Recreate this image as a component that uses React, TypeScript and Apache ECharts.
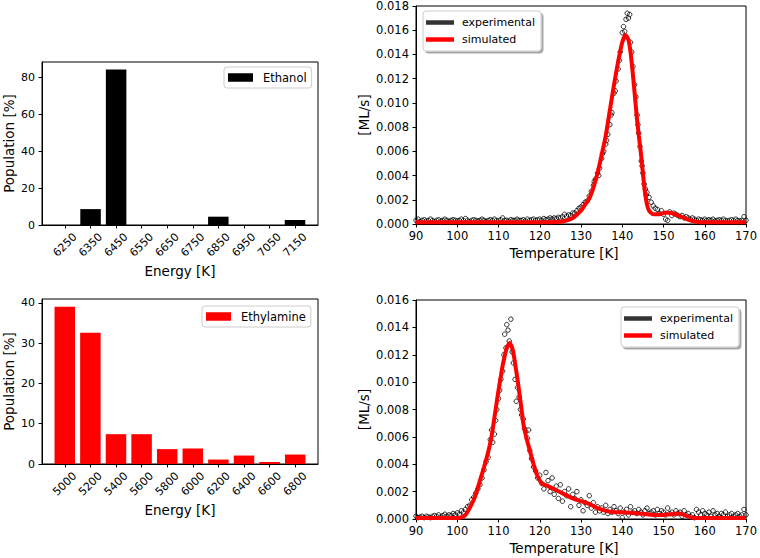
import React, { useEffect, useRef } from "react";
import * as echarts from "echarts";

// ---------- data ----------
const ETH_CATS = [6250, 6350, 6450, 6550, 6650, 6750, 6850, 6950, 7050, 7150];
const ETH_POP = [0, 8.6, 84.2, 0, 0, 0, 4.5, 0, 0, 2.7];
const ETH_Y_TICKS = [0, 20, 40, 60, 80];

const AMINE_CATS = [5000, 5200, 5400, 5600, 5800, 6000, 6200, 6400, 6600, 6800];
const AMINE_POP = [39.0, 32.6, 7.4, 7.4, 3.7, 3.85, 1.1, 2.1, 0.5, 2.35];
const AMINE_Y_TICKS = [0, 10, 20, 30, 40];

const TEMP_TICKS = [90, 100, 110, 120, 130, 140, 150, 160, 170];
const TPD1_Y_TICKS = [0, 0.002, 0.004, 0.006, 0.008, 0.01, 0.012, 0.014, 0.016, 0.018];
const TPD2_Y_TICKS = [0, 0.002, 0.004, 0.006, 0.008, 0.01, 0.012, 0.014, 0.016];

// desorption rates in units of 1e-3 ML/s : [T (K), rate]
const ETH_EXP: [number, number][] = [
  [90, 0.3], [90.5, 0.4], [91, 0.2], [91.5, 0.3], [92, 0.35], [92.5, 0.25], [93, 0.3], [93.5, 0.4], [94, 0.3], [94.5, 0.2],
  [95, 0.3], [95.5, 0.35], [96, 0.25], [96.5, 0.3], [97, 0.4], [97.5, 0.3], [98, 0.2], [98.5, 0.3], [99, 0.35], [99.5, 0.3],
  [100, 0.25], [100.5, 0.3], [101, 0.4], [101.5, 0.3], [102, 0.45], [102.5, 0.3], [103, 0.2], [103.5, 0.3], [104, 0.35], [104.5, 0.3],
  [105, 0.25], [105.5, 0.3], [106, 0.4], [106.5, 0.3], [107, 0.2], [107.5, 0.3], [108, 0.35], [108.5, 0.3], [109, 0.4], [109.5, 0.3],
  [110, 0.25], [110.5, 0.35], [111, 0.5], [111.5, 0.3], [112, 0.3], [112.5, 0.25], [113, 0.35], [113.5, 0.3], [114, 0.3], [114.5, 0.4],
  [115, 0.3], [115.5, 0.3], [116, 0.35], [116.5, 0.25], [117, 0.4], [117.5, 0.3], [118, 0.35], [118.5, 0.4], [119, 0.3], [119.5, 0.35],
  [120, 0.4], [120.5, 0.3], [121, 0.45], [121.5, 0.35], [122, 0.4], [122.5, 0.5], [123, 0.4], [123.5, 0.5], [124, 0.45], [124.5, 0.55],
  [125, 0.5], [125.5, 0.6], [126, 0.8], [126.5, 0.65], [127, 0.75], [127.5, 0.7], [128, 0.9], [128.5, 0.9], [129, 1.1], [129.5, 1.3],
  [130, 1.4], [130.5, 1.6], [131, 1.8], [131.5, 1.9], [132, 2.3], [132.5, 2.7], [133, 3.2], [133.2, 3.5], [133.5, 3.7], [134, 4.2],
  [134.3, 4.0], [134.5, 4.6], [135, 5.4], [135.2, 5.8], [135.5, 6.0], [136, 6.6], [136.2, 6.9], [136.5, 7.4], [137, 8.2], [137.3, 9.0],
  [137.5, 9.2], [138, 10.8], [138.3, 11.0], [138.5, 11.8], [139, 12.8], [139.3, 13.5], [139.5, 14.2], [140, 15.8], [140.3, 16.3], [140.6, 15.9],
  [140.9, 16.9], [141.2, 17.4], [141.5, 17.0], [141.8, 17.3], [142, 15.0], [142.3, 14.2], [142.6, 13.0], [143, 11.5], [143.3, 10.5], [143.6, 9.0],
  [143.8, 8.2], [144, 7.5], [144.3, 6.4], [144.6, 5.2], [144.8, 4.8], [145, 4.2], [145.3, 3.3], [145.6, 2.9], [145.8, 2.4], [146, 2.6],
  [146.5, 2.2], [147, 1.8], [147.5, 1.5], [148, 1.3], [148.5, 1.2], [149, 0.9], [149.5, 1.1], [150, 0.8], [150.5, 0.4], [151, 0.3],
  [151.5, 1.0], [152, 0.7], [152.5, 0.9], [153, 0.8], [153.5, 0.7], [154, 0.6], [154.5, 0.7], [155, 0.5], [155.5, 0.6], [156, 0.5],
  [156.5, 0.4], [157, 0.5], [157.5, 0.4], [158, 0.3], [158.5, 0.4], [159, 0.35], [159.5, 0.3], [160, 0.4], [160.5, 0.3], [161, 0.35],
  [161.5, 0.3], [162, 0.4], [162.5, 0.25], [163, 0.3], [163.5, 0.35], [164, 0.3], [164.5, 0.4], [165, 0.3], [165.5, 0.25], [166, 0.3],
  [166.5, 0.35], [167, 0.3], [167.5, 0.4], [168, 0.3], [168.5, 0.25], [169, 0.3], [169.5, 0.6], [170, 0.3],
];

const ETH_SIM: [number, number][] = [
  [90, 0.15], [95, 0.15], [100, 0.15], [105, 0.15], [110, 0.15], [115, 0.15], [120, 0.15], [124, 0.17], [126, 0.25], [128, 0.5],
  [130, 1.1], [131, 1.6], [132, 2.1], [133, 3.0], [134, 4.2], [135, 5.7], [136, 7.3], [137, 9.4], [138, 11.5], [139, 13.4],
  [140, 15.0], [140.8, 15.6], [141.5, 15.2], [142, 14.2], [142.5, 12.6], [143, 10.8], [143.5, 8.9], [144, 7.3], [144.5, 5.9], [145, 4.2],
  [145.5, 2.6], [146, 1.6], [146.5, 1.1], [147.5, 0.8], [149, 0.8], [150.5, 0.95], [152, 0.9], [153.5, 0.7], [155, 0.5], [157, 0.25],
  [159, 0.15], [165, 0.15], [170, 0.15],
];

const AMINE_EXP: [number, number][] = [
  [90, 0.2], [90.5, 0.1], [91, 0.15], [91.5, 0.2], [92, 0.1], [92.5, 0.2], [93, 0.15], [93.5, 0.1], [94, 0.2], [94.5, 0.25],
  [95, 0.2], [95.5, 0.3], [96, 0.15], [96.5, 0.25], [97, 0.35], [97.5, 0.2], [98, 0.3], [98.5, 0.25], [99, 0.4], [99.5, 0.3],
  [100, 0.45], [100.5, 0.35], [101, 0.6], [101.5, 0.5], [102, 0.7], [102.5, 0.9], [103, 1.0], [103.5, 1.4], [104, 1.6], [104.5, 1.9],
  [105, 2.2], [105.5, 2.5], [106, 3.0], [106.5, 3.6], [107, 4.2], [107.5, 4.5], [108, 5.8], [108.3, 6.5], [108.6, 5.6], [109, 6.2],
  [109.3, 7.2], [109.6, 8.0], [110, 8.8], [110.3, 9.4], [110.6, 10.2], [111, 10.8], [111.3, 12.0], [111.5, 13.5], [111.8, 12.5], [112, 14.2],
  [112.3, 13.8], [112.6, 13.0], [113, 14.6], [113.3, 12.2], [113.6, 11.4], [114, 10.2], [114.3, 8.6], [114.6, 9.6], [115, 8.9], [115.3, 8.0],
  [115.6, 7.6], [116, 7.3], [116.3, 6.6], [116.6, 6.4], [117, 5.9], [117.3, 6.5], [117.6, 5.0], [118, 4.4], [118.5, 3.8], [119, 3.5],
  [119.5, 3.0], [120, 3.2], [120.5, 2.6], [121, 2.2], [121.5, 3.4], [122, 2.8], [122.5, 2.0], [123, 3.0], [123.5, 1.8], [124, 2.4],
  [124.5, 1.5], [125, 2.5], [125.5, 1.3], [126, 2.0], [126.5, 1.7], [127, 2.2], [127.5, 0.9], [128, 1.8], [128.5, 1.5], [129, 2.0],
  [129.5, 1.0], [130, 1.4], [130.5, 0.6], [131, 1.2], [131.5, 1.0], [132, 1.7], [132.5, 0.8], [133, 1.2], [133.5, 0.5], [134, 0.9],
  [134.5, 0.6], [135, 0.8], [135.5, 0.5], [136, 1.0], [136.5, 0.4], [137, 0.7], [137.5, 0.5], [138, 0.9], [138.5, 0.6], [139, 0.4],
  [139.5, 0.8], [140, 0.1], [140.5, 0.5], [141, 0.7], [141.5, 0.3], [142, 0.9], [142.5, 0.5], [143, 0.6], [143.5, 0.4], [144, 0.7],
  [144.5, 0.5], [145, 0.3], [145.5, 0.6], [146, 0.8], [146.5, 0.4], [147, 0.5], [147.5, 0.6], [148, 0.3], [148.5, 0.7], [149, 0.4],
  [149.5, 0.6], [150, 0.5], [150.5, 0.3], [151, 0.8], [151.5, 0.4], [152, 0.5], [152.5, 0.3], [153, 0.6], [153.5, 0.4], [154, 0.5],
  [154.5, 0.2], [155, 0.6], [155.5, 0.3], [156, 0.4], [156.5, 0.2], [157, 0.3], [157.5, 0.1], [158, 0.7], [158.5, 0.5], [159, 0.3],
  [159.5, 0.6], [160, 0.4], [160.5, 0.3], [161, 0.5], [161.5, 0.2], [162, 0.6], [162.5, 0.3], [163, 0.4], [163.5, 0.2], [164, 0.4],
  [164.5, 0.3], [165, 0.5], [165.5, 0.2], [166, 0.3], [166.5, 0.4], [167, 0.2], [167.5, 0.3], [168, 0.4], [168.5, 0.2], [169, 0.3],
  [169.5, 0.7], [170, 0.3],
];

const AMINE_SIM: [number, number][] = [
  [90, 0.08], [95, 0.08], [100, 0.08], [101, 0.12], [102, 0.3], [103, 0.8], [104, 1.4], [104.7, 2.0], [105.5, 2.8], [106.5, 3.8],
  [107.5, 4.9], [108.3, 6.0], [109, 7.4], [110, 9.4], [110.5, 10.3], [111, 11.2], [112, 12.5], [112.7, 12.85], [113.5, 12.3], [114, 11.4],
  [114.7, 10.0], [115.5, 8.2], [116, 7.0], [116.7, 6.0], [117.5, 5.1], [118.5, 4.0], [119.5, 3.1], [120.5, 2.6], [122, 2.4], [124, 2.1],
  [126, 1.8], [128, 1.5], [130, 1.3], [132, 1.1], [134, 0.8], [136, 0.6], [138, 0.5], [140, 0.5], [142, 0.45], [144, 0.4],
  [146, 0.35], [148, 0.3], [150, 0.3], [152, 0.35], [153.5, 0.4], [155, 0.3], [156.5, 0.12], [158, 0.08], [170, 0.08],
];

// ---------- styling ----------
const FONT = "DejaVu Sans";
const NAME_FS = 13.5;

const toRate = (arr: [number, number][]) => arr.map(([t, v]) => [t, v / 1000]);

function valueAxis(opts: any) {
  const ticks: number[] = opts.ticks;
  return {
    type: "value",
    gridIndex: opts.grid,
    min: opts.min,
    max: opts.max,
    name: opts.name,
    nameLocation: "middle",
    nameGap: opts.nameGap,
    nameTextStyle: Object.assign({ fontFamily: FONT, fontSize: NAME_FS, color: "#000" }, opts.nameExtra || {}),
    axisLine: { show: true, onZero: false, lineStyle: { color: "#000", width: 1 } },
    axisTick: { show: true, length: 3.5, inside: false, customValues: ticks, lineStyle: { color: "#000", width: 1 } },
    splitLine: { show: false },
    axisLabel: Object.assign(
      {
        customValues: ticks,
        fontFamily: FONT,
        fontSize: opts.fs || 11,
        color: "#000",
        margin: opts.margin,
        formatter: opts.formatter || ((v: number) => String(v)),
        showMinLabel: true,
        showMaxLabel: true,
      },
      opts.labelExtra || {}
    ),
  };
}

const gridBase = { show: true, borderColor: "#000", borderWidth: 1, backgroundColor: "transparent", containLabel: false };

const rateFmt = (v: number) => v.toFixed(3);

export default function App() {
  const ref = useRef<HTMLDivElement>(null);

  useEffect(() => {
    if (!ref.current) return;
    const chart = echarts.init(ref.current, undefined, { renderer: "svg" });

    const rotLabel = { rotate: 45, align: "center", verticalAlign: "middle" };
    const tempName = { padding: [0, 34, 0, 0] };

    const option: any = {
      animation: false,
      backgroundColor: "#fff",
      textStyle: { fontFamily: FONT },
      grid: [
        { ...gridBase, left: 42, top: 62, width: 276, height: 163 },
        { ...gridBase, left: 42, top: 299, width: 276, height: 165 },
        { ...gridBase, left: 416, top: 5, width: 332, height: 219 },
        { ...gridBase, left: 416, top: 300, width: 332, height: 219 },
      ],
      xAxis: [
        valueAxis({ grid: 0, min: 6160, max: 7240, ticks: ETH_CATS, name: "Energy [K]", nameGap: 39, margin: 20, labelExtra: rotLabel }),
        valueAxis({ grid: 1, min: 4822, max: 6978, ticks: AMINE_CATS, name: "Energy [K]", nameGap: 39, margin: 20, labelExtra: rotLabel }),
        valueAxis({ grid: 2, min: 90, max: 170, ticks: TEMP_TICKS, name: "Temperature [K]", nameGap: 22, margin: 6, fs: 11.5, nameExtra: tempName }),
        valueAxis({ grid: 3, min: 90, max: 170, ticks: TEMP_TICKS, name: "Temperature [K]", nameGap: 22, margin: 6, fs: 11.5, nameExtra: tempName }),
      ],
      yAxis: [
        valueAxis({ grid: 0, min: 0, max: 88.2, ticks: ETH_Y_TICKS, name: "Population [%]", nameGap: 26, margin: 7 }),
        valueAxis({ grid: 1, min: 0, max: 40.95, ticks: AMINE_Y_TICKS, name: "Population [%]", nameGap: 26, margin: 7 }),
        valueAxis({ grid: 2, min: 0, max: 0.018, ticks: TPD1_Y_TICKS, name: "[ML/s]", nameGap: 45, margin: 7, fs: 11.5, formatter: rateFmt }),
        valueAxis({ grid: 3, min: 0, max: 0.016, ticks: TPD2_Y_TICKS, name: "[ML/s]", nameGap: 45, margin: 7, fs: 11.5, formatter: rateFmt }),
      ],
      legend: [
        {
          orient: "vertical", left: 224, top: 67, itemWidth: 25, itemHeight: 8.5, itemGap: 2,
          padding: [3.5, 5, 3.5, 4], borderColor: "#cccccc", borderWidth: 1, borderRadius: 3, backgroundColor: "#fff",
          textStyle: { fontFamily: FONT, fontSize: 11.5, color: "#000", lineHeight: 14, padding: [0, 0, 0, 5] },
          selectedMode: false,
          data: [{ name: "Ethanol", icon: "rect", itemStyle: { color: "#000", borderWidth: 0 } }],
        },
        {
          orient: "vertical", left: 202, top: 306, itemWidth: 25, itemHeight: 8.5, itemGap: 2,
          padding: [3.5, 5, 3.5, 4], borderColor: "#cccccc", borderWidth: 1, borderRadius: 3, backgroundColor: "#fff",
          textStyle: { fontFamily: FONT, fontSize: 11.5, color: "#000", lineHeight: 14, padding: [0, 0, 0, 5] },
          selectedMode: false,
          data: [{ name: "Ethylamine", icon: "rect", itemStyle: { color: "#ff0000", borderWidth: 0 } }],
        },
        {
          orient: "vertical", left: 423, top: 11, itemWidth: 28, itemHeight: 4.5, itemGap: 3,
          padding: [4.5, 6, 4.5, 3], borderColor: "#cccccc", borderWidth: 1, borderRadius: 3, backgroundColor: "#fff",
          shadowColor: "rgba(0,0,0,0.35)", shadowOffsetX: 2, shadowOffsetY: 2, shadowBlur: 0,
          textStyle: { fontFamily: FONT, fontSize: 11, color: "#000", lineHeight: 14, padding: [0, 0, 0, 3] },
          selectedMode: false,
          data: [
            { name: "experimental", icon: "rect", itemStyle: { color: "#000", borderWidth: 0 } },
            { name: "simulated", icon: "rect", itemStyle: { color: "#ff0000", borderWidth: 0 } },
          ],
        },
        {
          orient: "vertical", left: 621, top: 307, itemWidth: 28, itemHeight: 4.5, itemGap: 3,
          padding: [4.5, 6, 4.5, 3], borderColor: "#cccccc", borderWidth: 1, borderRadius: 3, backgroundColor: "#fff",
          shadowColor: "rgba(0,0,0,0.35)", shadowOffsetX: 2, shadowOffsetY: 2, shadowBlur: 0,
          textStyle: { fontFamily: FONT, fontSize: 11, color: "#000", lineHeight: 14, padding: [0, 0, 0, 3] },
          selectedMode: false,
          data: [
            { name: "experimental", icon: "rect", itemStyle: { color: "#000", borderWidth: 0 } },
            { name: "simulated", icon: "rect", itemStyle: { color: "#ff0000", borderWidth: 0 } },
          ],
        },
      ],
      series: [
        {
          name: "Ethanol", type: "bar", xAxisIndex: 0, yAxisIndex: 0, barWidth: 20.5,
          itemStyle: { color: "#000" },
          data: ETH_CATS.map((c, i) => [c, ETH_POP[i]]),
        },
        {
          name: "Ethylamine", type: "bar", xAxisIndex: 1, yAxisIndex: 1, barWidth: 20.5,
          itemStyle: { color: "#ff0000" },
          data: AMINE_CATS.map((c, i) => [c, AMINE_POP[i]]),
        },
        {
          name: "experimental", type: "scatter", xAxisIndex: 2, yAxisIndex: 2, symbol: "circle", symbolSize: 4.5,
          itemStyle: { color: "rgba(0,0,0,0)", borderColor: "#000", borderWidth: 1 },
          data: toRate(ETH_EXP),
        },
        {
          name: "simulated", type: "line", xAxisIndex: 2, yAxisIndex: 2, symbol: "none", smooth: 0.2,
          lineStyle: { color: "#ff0000", width: 4 }, itemStyle: { color: "#ff0000" },
          data: toRate(ETH_SIM),
        },
        {
          name: "experimental", type: "scatter", xAxisIndex: 3, yAxisIndex: 3, symbol: "circle", symbolSize: 4.5,
          itemStyle: { color: "rgba(0,0,0,0)", borderColor: "#000", borderWidth: 1 },
          data: toRate(AMINE_EXP),
        },
        {
          name: "simulated", type: "line", xAxisIndex: 3, yAxisIndex: 3, symbol: "none", smooth: 0.2,
          lineStyle: { color: "#ff0000", width: 4 }, itemStyle: { color: "#ff0000" },
          data: toRate(AMINE_SIM),
        },
      ],
    };

    chart.setOption(option);
    return () => chart.dispose();
  }, []);

  return (
    <div
      ref={ref}
      style={{ position: "absolute", left: 0, top: 0, width: 760, height: 558, background: "#fff" }}
    />
  );
}
